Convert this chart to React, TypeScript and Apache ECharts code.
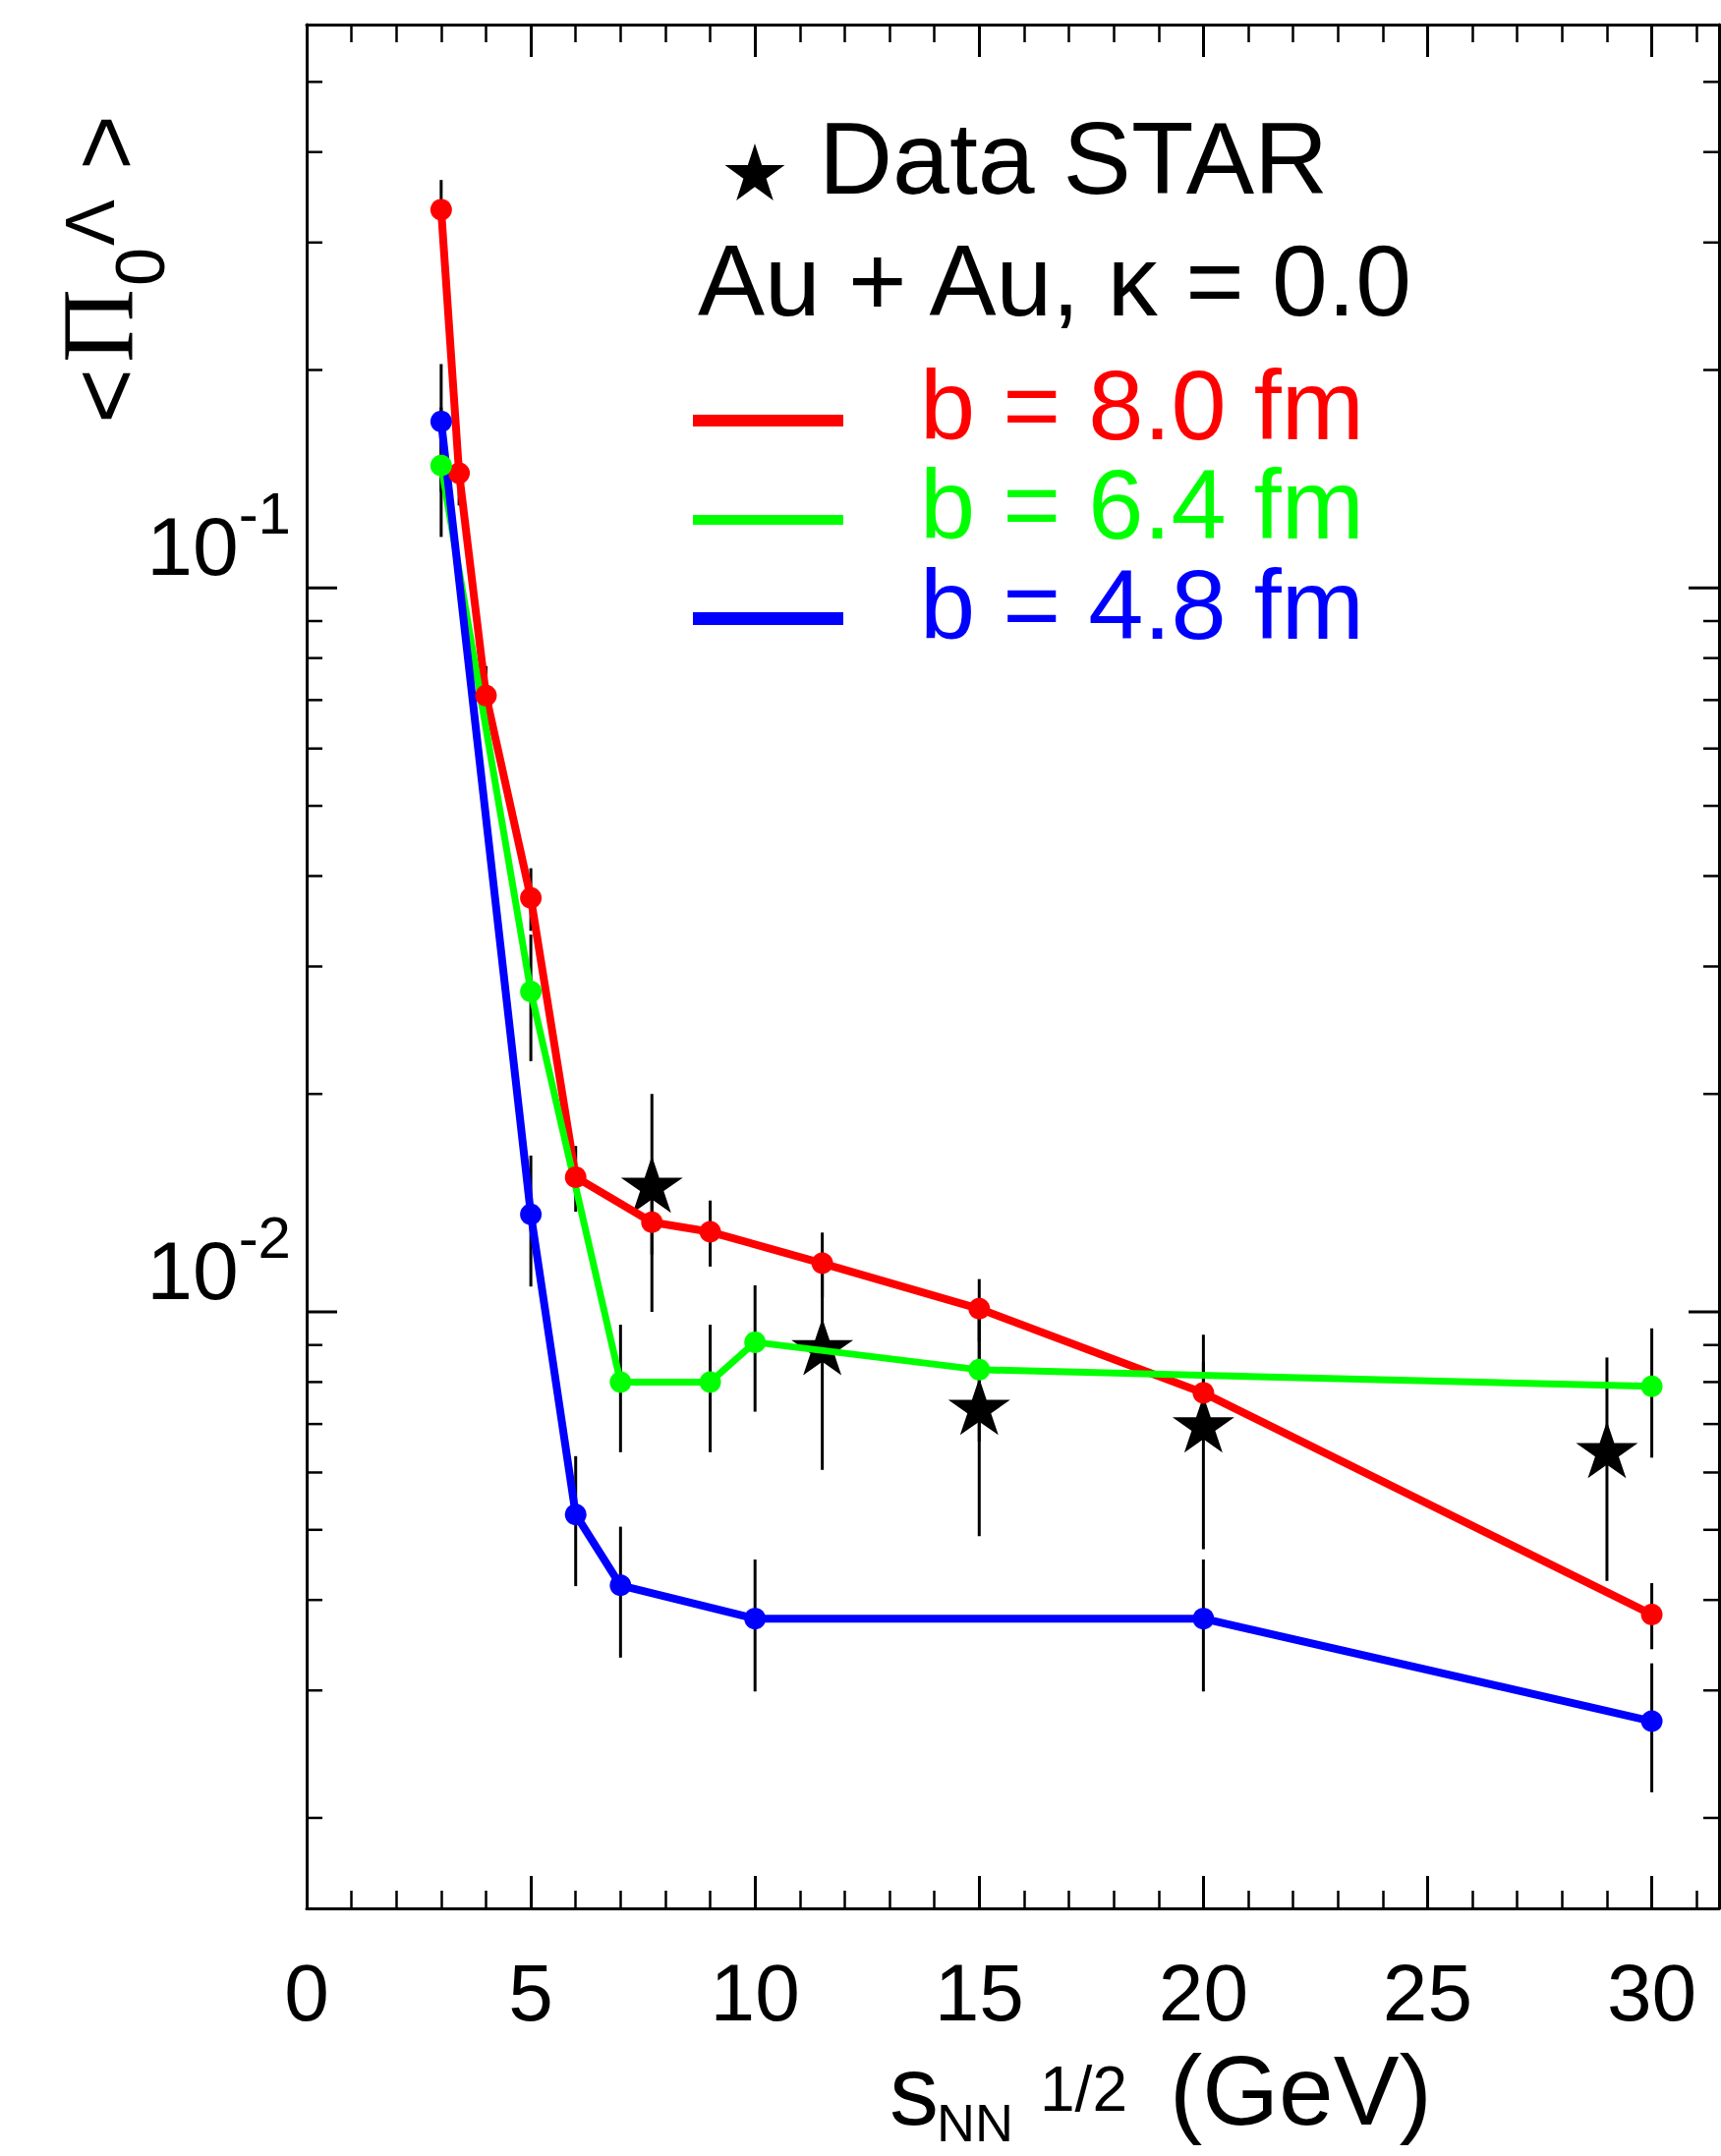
import React, { useEffect, useRef } from "react";
import * as echarts from "echarts";

// ---------------- data ----------------
// b = 8.0 fm (red)
const redX = [3, 3.4, 4, 5, 6, 7.7, 9, 11.5, 15, 20, 30];
const redY = [0.333, 0.144, 0.071, 0.0373, 0.01535, 0.0133, 0.0129, 0.01167, 0.0101, 0.00773, 0.00382];
const redErr = [0.033, 0.014, 0.007, 0.0037, 0.0016, 0.0013, 0.00135, 0.0012, 0.001, 0.0008, 0.0004];
// b = 6.4 fm (green)
const greenX = [3, 5, 7, 9, 10, 15, 30];
const greenY = [0.1476, 0.0277, 0.00800, 0.00800, 0.00908, 0.00832, 0.00789];
const greenErr = [0.030, 0.0055, 0.0016, 0.0016, 0.0018, 0.0017, 0.0016];
// b = 4.8 fm (blue)
const blueX = [3, 5, 6, 7, 10, 20, 30];
const blueY = [0.1698, 0.01364, 0.00525, 0.00419, 0.00377, 0.00377, 0.00272];
const blueErr = [0.034, 0.0028, 0.00107, 0.00086, 0.00078, 0.00078, 0.00055];
// Data STAR
const starX = [7.7, 11.5, 15, 20, 29];
const starY = [0.0150, 0.00895, 0.0074, 0.00700, 0.00645];
const starErr = [0.0050, 0.0029, 0.0025, 0.0023, 0.0022];

// axis scaffolding
const xMin = 0;
const xMax = 31.5;
const xInterval = 5;
const yMin = 0.0015;
const yMax = 0.6;
const yMajorTicks = [0.01, 0.1];
const yMinorTicks = [
  0.002, 0.003, 0.004, 0.005, 0.006, 0.007, 0.008, 0.009,
  0.02, 0.03, 0.04, 0.05, 0.06, 0.07, 0.08, 0.09,
  0.2, 0.3, 0.4, 0.5,
];

const legendLabels = ["b = 8.0 fm", "b = 6.4 fm", "b = 4.8 fm"];
const seriesColors = ["#ff0000", "#00ff00", "#0000ff"];

// ---------------- helpers ----------------
const W = 1751;
const H = 2194;
const FONT = '"Liberation Sans", Arial, Helvetica, sans-serif';
const SERIF = '"Liberation Serif", "Times New Roman", serif';
const STAR_PATH =
  "path://M0,-100L22.45,-30.9L95.1,-30.9L36.3,11.8L58.8,80.9L0,38.2L-58.8,80.9L-36.3,11.8L-95.1,-30.9L-22.45,-30.9Z";

const pairs = (xs: number[], ys: number[]) => xs.map((x, i) => [x, ys[i]]);
const errRows = (xs: number[], ys: number[], es: number[]) =>
  xs.map((x, i) => [x, ys[i] - es[i], ys[i] + es[i]]);

function starPoints(cx: number, cy: number, R: number) {
  const pts: number[][] = [];
  for (let i = 0; i < 10; i++) {
    const r = i % 2 === 0 ? R : R * 0.382;
    const a = -Math.PI / 2 + (i * Math.PI) / 5;
    pts.push([cx + r * Math.cos(a), cy + r * Math.sin(a)]);
  }
  return pts;
}

function txt(text: string, x: number, y: number, size: number, color = "#000", family = FONT) {
  return {
    type: "text",
    x,
    y,
    silent: true,
    style: {
      text,
      fill: color,
      font: `${size}px ${family}`,
      textAlign: "left",
      textVerticalAlign: "middle",
      align: "left",
      verticalAlign: "middle",
    },
  };
}

const axisLineStyle = { color: "#000", width: 3 };

export default function App() {
  const ref = useRef<HTMLDivElement>(null);

  useEffect(() => {
    if (!ref.current) return;
    document.body.style.margin = "0";
    const chart = echarts.init(ref.current, undefined, { renderer: "svg" });

    const lineSeries = (name: string, xs: number[], ys: number[], color: string, width: number) => ({
      name,
      type: "line",
      xAxisIndex: 0,
      yAxisIndex: 0,
      data: pairs(xs, ys),
      symbol: "circle",
      symbolSize: 22,
      showSymbol: true,
      z: 4,
      lineStyle: { color, width, opacity: 1 },
      itemStyle: { color, opacity: 1 },
      emphasis: { disabled: true },
      silent: true,
    });

    const errSeries = (name: string, xs: number[], ys: number[], es: number[]) => ({
      name,
      type: "custom",
      xAxisIndex: 0,
      yAxisIndex: 0,
      z: 1,
      silent: true,
      encode: { x: 0, y: [1, 2] },
      data: errRows(xs, ys, es),
      renderItem: (_params: any, api: any) => {
        const x = api.value(0);
        const lo = api.coord([x, api.value(1)]);
        const hi = api.coord([x, api.value(2)]);
        return {
          type: "line",
          shape: { x1: lo[0], y1: lo[1], x2: hi[0], y2: hi[1] },
          style: { stroke: "#000", lineWidth: 3 },
        };
      },
    });

    const yTickData = [
      ...yMinorTicks.map((v) => [xMin, v, 0]),
      ...yMajorTicks.map((v) => [xMin, v, 1]),
    ];

    const option: any = {
      animation: false,
      backgroundColor: "#ffffff",
      grid: {
        left: 312,
        top: 25,
        width: 1437,
        height: 1917,
        containLabel: false,
        outerBoundsMode: "none",
      },
      xAxis: [
        {
          type: "value",
          position: "bottom",
          min: xMin,
          max: xMax,
          interval: xInterval,
          axisLine: { show: true, onZero: false, lineStyle: axisLineStyle },
          axisTick: { show: true, inside: true, length: 33, lineStyle: { color: "#000", width: 3 } },
          minorTick: { show: true, splitNumber: 5, length: 18, lineStyle: { color: "#000", width: 2.5 } },
          splitLine: { show: false },
          minorSplitLine: { show: false },
          axisLabel: {
            show: true,
            margin: 44,
            fontSize: 82,
            fontFamily: FONT,
            color: "#000",
            showMinLabel: true,
            showMaxLabel: false,
            formatter: (v: number) => (v % 5 === 0 ? String(v) : ""),
          },
        },
        {
          type: "value",
          position: "top",
          min: xMin,
          max: xMax,
          interval: xInterval,
          axisLine: { show: true, onZero: false, lineStyle: axisLineStyle },
          axisTick: { show: true, inside: true, length: 33, lineStyle: { color: "#000", width: 3 } },
          minorTick: { show: true, splitNumber: 5, length: 18, lineStyle: { color: "#000", width: 2.5 } },
          splitLine: { show: false },
          minorSplitLine: { show: false },
          axisLabel: { show: false },
        },
      ],
      yAxis: [
        {
          type: "log",
          logBase: 10,
          position: "left",
          min: yMin,
          max: yMax,
          axisLine: { show: true, onZero: false, lineStyle: axisLineStyle },
          axisTick: { show: false },
          minorTick: { show: false },
          splitLine: { show: false },
          axisLabel: {
            show: true,
            margin: 16,
            verticalAlign: "bottom",
            showMinLabel: false,
            showMaxLabel: false,
            formatter: (v: number) => {
              const l = Math.log10(v);
              const r = Math.round(l);
              if (Math.abs(l - r) < 1e-6 && yMajorTicks.some((t) => Math.abs(t - v) / t < 1e-6)) {
                return `{m|10}{s|${r}}`;
              }
              return "";
            },
            rich: {
              m: { fontSize: 84, fontFamily: FONT, color: "#000", lineHeight: 106, verticalAlign: "bottom" },
              s: { fontSize: 60, fontFamily: FONT, color: "#000", verticalAlign: "top" },
            },
          },
        },
        {
          type: "log",
          logBase: 10,
          position: "right",
          min: yMin,
          max: yMax,
          axisLine: { show: true, onZero: false, lineStyle: axisLineStyle },
          axisTick: { show: false },
          splitLine: { show: false },
          axisLabel: { show: false },
        },
      ],
      series: [
        errSeries("err red", redX, redY, redErr),
        errSeries("err green", greenX, greenY, greenErr),
        errSeries("err blue", blueX, blueY, blueErr),
        errSeries("err star", starX, starY, starErr),
        {
          name: "Data STAR",
          type: "scatter",
          xAxisIndex: 0,
          yAxisIndex: 0,
          data: pairs(starX, starY),
          symbol: STAR_PATH,
          symbolSize: [63, 58],
          itemStyle: { color: "#000000", opacity: 1 },
          emphasis: { disabled: true },
          z: 3,
          silent: true,
        },
        lineSeries(legendLabels[0], redX, redY, seriesColors[0], 8),
        lineSeries(legendLabels[1], greenX, greenY, seriesColors[1], 7),
        lineSeries(legendLabels[2], blueX, blueY, seriesColors[2], 8),
        {
          name: "y ticks",
          type: "custom",
          xAxisIndex: 0,
          yAxisIndex: 0,
          z: 6,
          silent: true,
          encode: { x: 0, y: 1 },
          data: yTickData,
          renderItem: (params: any, api: any) => {
            const v = api.value(1);
            const major = api.value(2) === 1;
            const p = api.coord([xMin, v]);
            const cs = params.coordSys;
            const left = cs.x;
            const right = cs.x + cs.width;
            const len = major ? 31 : 16;
            const st = { stroke: "#000", lineWidth: major ? 3 : 2.5 };
            return {
              type: "group",
              children: [
                { type: "line", shape: { x1: left, y1: p[1], x2: left + len, y2: p[1] }, style: st },
                { type: "line", shape: { x1: right, y1: p[1], x2: right - len, y2: p[1] }, style: st },
              ],
            };
          },
        },
      ],
      graphic: [
        // legend / annotation block
        { type: "polygon", silent: true, shape: { points: starPoints(768, 178, 32) }, style: { fill: "#000" } },
        txt("Data STAR", 833, 161, 104),
        txt("Au + Au, κ = 0.0", 710, 286, 102),
        { type: "rect", silent: true, shape: { x: 705, y: 422, width: 153, height: 12 }, style: { fill: seriesColors[0] } },
        { type: "rect", silent: true, shape: { x: 705, y: 524, width: 153, height: 10 }, style: { fill: seriesColors[1] } },
        { type: "rect", silent: true, shape: { x: 705, y: 623, width: 153, height: 13 }, style: { fill: seriesColors[2] } },
        txt(legendLabels[0], 936, 412, 101, seriesColors[0]),
        txt(legendLabels[1], 936, 513, 101, seriesColors[1]),
        txt(legendLabels[2], 936, 615, 101, seriesColors[2]),
        // x-axis title: s_NN^{1/2} (GeV)
        txt("s", 905, 2127, 100),
        txt("NN", 953, 2160, 54),
        txt("1/2", 1058, 2126, 64),
        txt("(GeV)", 1190, 2127, 100),
        // y-axis title: <Π_0^Λ >
        {
          type: "group",
          x: 135,
          y: 425,
          rotation: Math.PI / 2,
          children: [
            txt("<", -6, -29, 96),
            txt("Π", 56, -36, 104, "#000", SERIF),
            txt("0", 134, 8, 70),
            txt("Λ", 175, -43, 70),
            txt(">", 252, -29, 96),
          ],
        },
      ],
    };

    chart.setOption(option);
    return () => {
      chart.dispose();
    };
  }, []);

  return (
    <div
      ref={ref}
      style={{ position: "absolute", left: 0, top: 0, width: W, height: H, background: "#fff" }}
    />
  );
}
